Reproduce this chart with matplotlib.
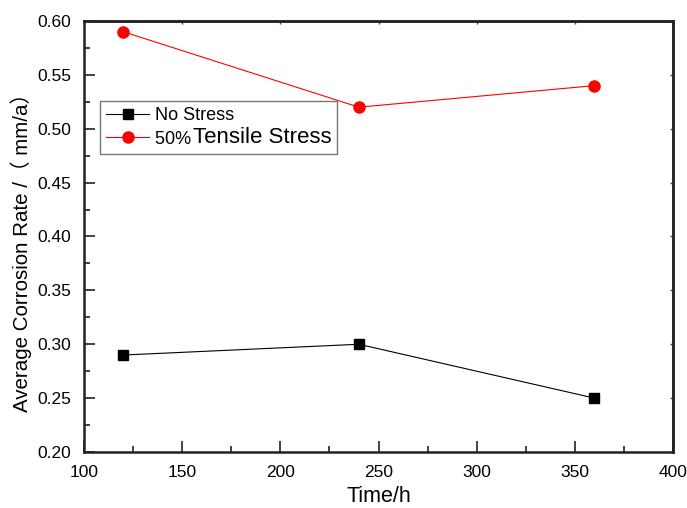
import matplotlib
matplotlib.use("Agg")
import matplotlib.pyplot as plt
from matplotlib.ticker import MultipleLocator, FormatStrFormatter

plt.rcParams['font.family'] = ['Liberation Sans', 'Noto Sans CJK SC', 'DejaVu Sans']

time_h = [120, 240, 360]
no_stress = [0.29, 0.30, 0.25]
tensile_stress = [0.59, 0.52, 0.54]
series_labels = ["No Stress", "50%", "Tensile Stress"]

fig = plt.figure(figsize=(6.87, 5.08), dpi=100)
ax = fig.add_axes([0.1223, 0.1102, 0.8573, 0.8485])

ax.plot(time_h, no_stress, color='black', lw=0.8, marker='s', ms=7,
        label=series_labels[0])
ax.plot(time_h, tensile_stress, color='red', lw=0.8, marker='o', ms=8,
        label=series_labels[1] + " " * 28)

ax.set_xlim(100, 400)
ax.set_ylim(0.20, 0.60)
ax.xaxis.set_major_locator(MultipleLocator(50))
ax.xaxis.set_minor_locator(MultipleLocator(25))
ax.yaxis.set_major_locator(MultipleLocator(0.05))
ax.yaxis.set_minor_locator(MultipleLocator(0.025))
ax.yaxis.set_major_formatter(FormatStrFormatter('%.2f'))

ax.tick_params(which='both', direction='in', labelsize=12.5, width=1.2,
               color='#222222')
ax.tick_params(which='major', length=8, pad=9)
ax.tick_params(which='minor', length=4)
for s in ax.spines.values():
    s.set_linewidth(1.8)
    s.set_color('#222222')

# small inward ticks on top and right edges
top = ax.secondary_xaxis('top')
right = ax.secondary_yaxis('right')
top.xaxis.set_major_locator(MultipleLocator(50))
right.yaxis.set_major_locator(MultipleLocator(0.05))
for sec in (top, right):
    sec.tick_params(which='major', direction='in', length=2.5, width=1.0,
                    labelleft=False, labelright=False, labeltop=False,
                    labelbottom=False, color='#444444')
    sec.tick_params(which='minor', length=0)
    for s in sec.spines.values():
        s.set_linewidth(1.8)
        s.set_color('#222222')

ax.set_xlabel("Time/h", fontsize=15.5, labelpad=5)
ax.set_ylabel("Average Corrosion Rate /（ mm/a）", fontsize=14.8)
ax.yaxis.set_label_coords(-0.089, 0.474)

leg = ax.legend(loc='upper left', bbox_to_anchor=(0.011, 0.835), fontsize=13,
                frameon=True, fancybox=False, edgecolor='#555555',
                handlelength=2.4, handletextpad=0.3, borderpad=0.35,
                labelspacing=0.35)
leg.get_frame().set_linewidth(1.0)
t50 = leg.get_texts()[1]
ax.annotate(series_labels[2], xy=(0, 0), xycoords=t50,
            xytext=(28, 0), textcoords='offset points',
            fontsize=16, va='bottom', ha='left', zorder=10)

fig.savefig("out.png", dpi=100)
